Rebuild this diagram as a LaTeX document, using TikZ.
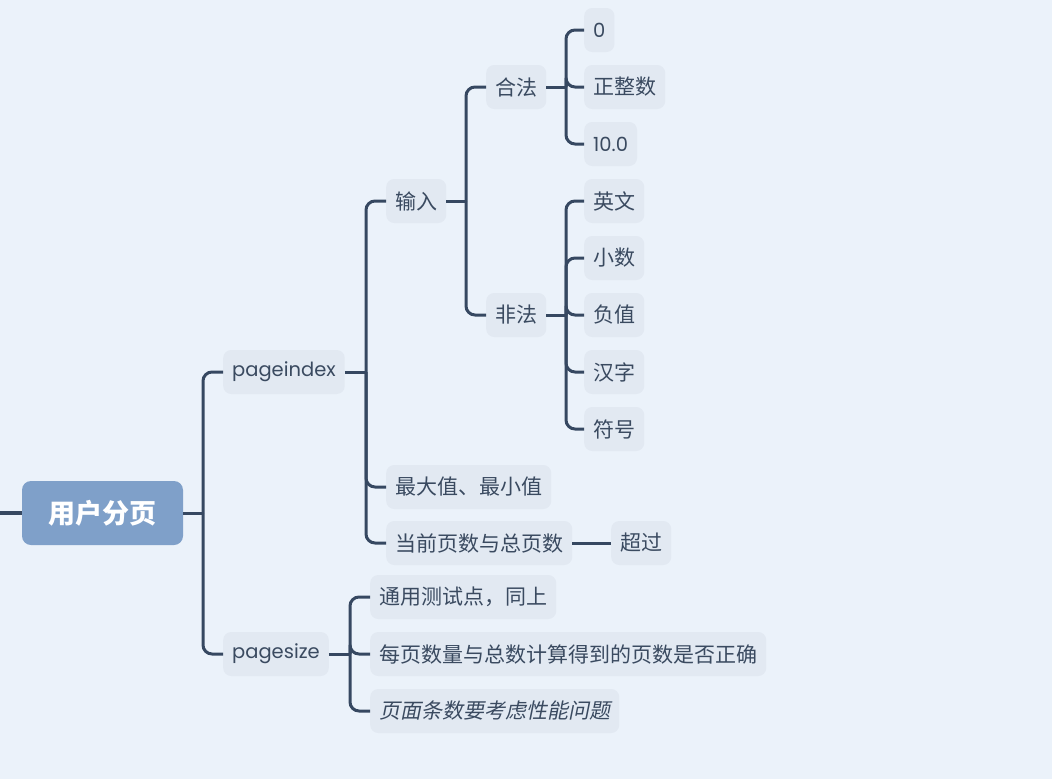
\documentclass[tikz,border=0pt]{standalone}
\usepackage{fontspec}
\setmainfont{Noto Sans CJK SC}
\newfontfamily\cjkit[FakeSlant=0.2]{Noto Sans CJK SC}
\newfontfamily\latinf{Poppins}
\definecolor{bg}{HTML}{EBF2FA}
\definecolor{nodefill}{HTML}{E2E9F2}
\definecolor{txt}{HTML}{3A4A60}
\definecolor{line}{HTML}{364861}
\definecolor{rootfill}{HTML}{7FA0C9}
\newcommand{\lat}[1]{\raisebox{-2pt}{\latinf\fontsize{19.5}{24}\selectfont #1}}
\tikzset{
  leaf/.style={anchor=west, fill=nodefill, rounded corners=8pt, text=txt,
    minimum height=44pt, inner xsep=9pt, font=\fontsize{21}{25}\selectfont},
  rootnode/.style={fill=rootfill, rounded corners=9pt, text=white,
    minimum width=161pt, minimum height=64pt, font=\fontsize{27}{31}\selectfont\bfseries},
  conn/.style={draw=line, line width=3pt, rounded corners=9pt},
  stem/.style={draw=line, line width=3pt},
}
\begin{document}
\begin{tikzpicture}[x=1pt,y=-1pt]
\fill[bg] (0,0) rectangle (1052,779);
\useasboundingbox (0,0) rectangle (1052,779);
% nodes
\node[rootnode] (root) at (102.5,513) {用户分页};
\coordinate (stub) at (0,513);
\node[leaf] (pi) at (223,372) {\lat{pageindex}};
\node[leaf] (ps) at (223,654) {\lat{pagesize}};
\node[leaf] (in) at (386,201) {输入};
\node[leaf] (mx) at (386,487) {最大值、最小值};
\node[leaf] (cur) at (386,543) {当前页数与总页数};
\node[leaf] (cg) at (611,543) {超过};
\node[leaf] (ok) at (486,87) {合法};
\node[leaf] (bad) at (486,315) {非法};
\node[leaf] (z) at (584,30) {\lat{0}};
\node[leaf] (pos) at (584,87) {正整数};
\node[leaf] (ten) at (584,144) {\lat{10.0}};
\node[leaf] (en) at (584,201) {英文};
\node[leaf] (dec) at (584,258) {小数};
\node[leaf] (neg) at (584,315) {负值};
\node[leaf] (hz) at (584,372) {汉字};
\node[leaf] (sym) at (584,429) {符号};
\node[leaf] (gen) at (370,597) {通用测试点，同上};
\node[leaf] (calc) at (370,654) {每页数量与总数计算得到的页数是否正确};
\node[leaf] (perf) at (370,711) {\cjkit 页面条数要考虑性能问题};
% spine x coordinates
\coordinate (s0) at (203,0);
\coordinate (s1) at (366,0);
\coordinate (s2) at (466,0);
\coordinate (s3) at (566,0);
\coordinate (s4) at (350,0);
% connectors
\draw[draw=line, line width=4.5pt] (stub) -- (root.west);
\draw[stem] (root.east) -- (root.east -| s0);
\foreach \c in {pi,ps} \draw[conn] (root.east -| s0) |- (\c.west);
\draw[stem] (pi.east) -- (pi.east -| s1);
\foreach \c in {in,mx,cur} \draw[conn] (pi.east -| s1) |- (\c.west);
\draw[stem] (in.east) -- (in.east -| s2);
\foreach \c in {ok,bad} \draw[conn] (in.east -| s2) |- (\c.west);
\draw[stem] (ok.east) -- (ok.east -| s3);
\foreach \c in {z,pos,ten} \draw[conn] (ok.east -| s3) |- (\c.west);
\draw[stem] (bad.east) -- (bad.east -| s3);
\foreach \c in {en,dec,neg,hz,sym} \draw[conn] (bad.east -| s3) |- (\c.west);
\draw[stem] (ps.east) -- (ps.east -| s4);
\foreach \c in {gen,calc,perf} \draw[conn] (ps.east -| s4) |- (\c.west);
\draw[stem] (cur.east) -- (cg.west);
\end{tikzpicture}
\end{document}
